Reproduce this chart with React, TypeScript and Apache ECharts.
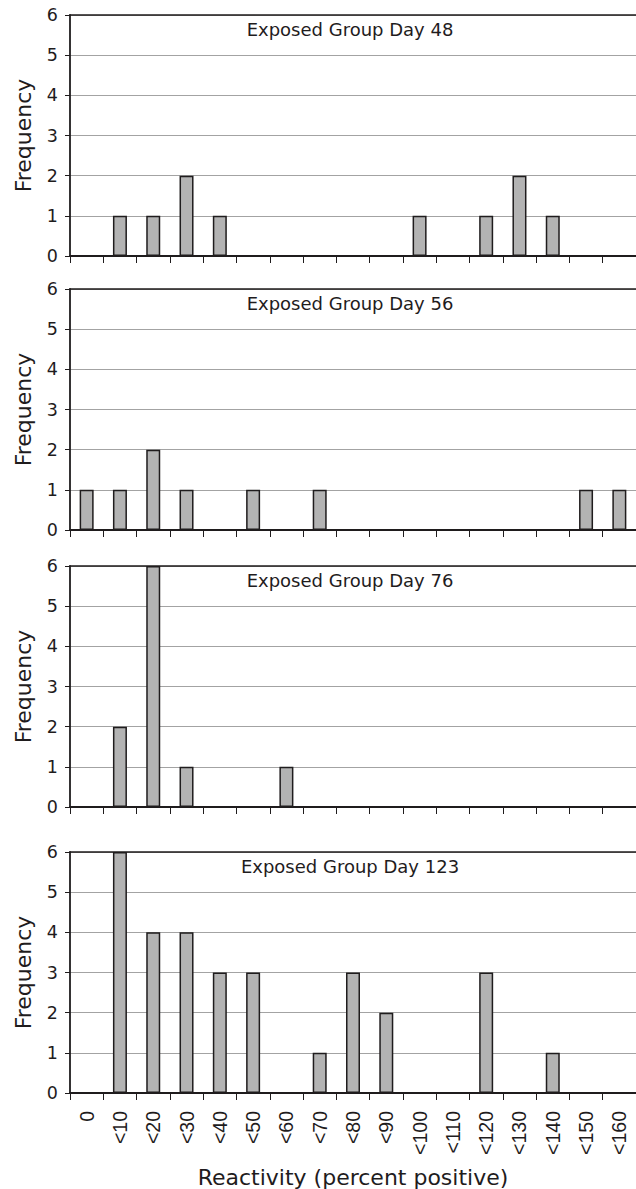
import React, { useEffect, useRef } from "react";
import * as echarts from "echarts";

const categories = ["0", "<10", "<20", "<30", "<40", "<50", "<60", "<70", "<80", "<90", "<100", "<110", "<120", "<130", "<140", "<150", "<160"];
const day48 = [0, 1, 1, 2, 1, 0, 0, 0, 0, 0, 1, 0, 1, 2, 1, 0, 0];
const day56 = [1, 1, 2, 1, 0, 1, 0, 1, 0, 0, 0, 0, 0, 0, 0, 1, 1];
const day76 = [0, 2, 6, 1, 0, 0, 1, 0, 0, 0, 0, 0, 0, 0, 0, 0, 0];
const day123 = [0, 6, 4, 4, 3, 3, 0, 1, 3, 2, 0, 0, 3, 0, 1, 0, 0];
const panelTitles = ["Exposed Group Day 48", "Exposed Group Day 56", "Exposed Group Day 76", "Exposed Group Day 123"];
const yTicks = [0, 1, 2, 3, 4, 5, 6];
const xAxisTitle = "Reactivity (percent positive)";
const yAxisTitle = "Frequency";

const panelData = [day48, day56, day76, day123];
const panelTops = [15, 289, 566, 852];
const panelHeight = 241;
const gridLeft = 70;
const gridWidth = 570;
const FONT = "DejaVu Sans";
const XFONT = "Liberation Sans";
const INK = "#1f1c1d";

export default function App() {
  const ref = useRef<HTMLDivElement>(null);
  useEffect(() => {
    if (!ref.current) return;
    const chart = echarts.init(ref.current, null, { renderer: "svg" });
    const grids: any[] = [];
    const xAxes: any[] = [];
    const yAxes: any[] = [];
    const series: any[] = [];
    const graphics: any[] = [];
    panelData.forEach((vals, i) => {
      const isLast = i === panelData.length - 1;
      grids.push({ left: gridLeft, top: panelTops[i], width: gridWidth, height: panelHeight });
      xAxes.push({
        type: "category",
        gridIndex: i,
        data: categories,
        boundaryGap: true,
        axisLine: { show: true, lineStyle: { color: INK, width: 1.8 } },
        axisTick: { show: true, length: 7, alignWithLabel: false, lineStyle: { color: INK, width: 1 } },
        axisLabel: {
          show: isLast,
          rotate: 90,
          interval: 0,
          margin: 18,
          fontFamily: XFONT,
          fontSize: 19.5,
          color: INK,
        },
        name: isLast ? xAxisTitle : "",
        nameLocation: "middle",
        nameGap: 73,
        nameTextStyle: { fontFamily: FONT, fontSize: 22, color: INK },
        splitLine: { show: false },
      });
      // top frame line
      xAxes.push({
        type: "category",
        gridIndex: i,
        position: "top",
        data: categories,
        axisLine: { show: true, lineStyle: { color: INK, width: 1.6 } },
        axisTick: { show: false },
        axisLabel: { show: false },
        splitLine: { show: false },
      });
      yAxes.push({
        type: "value",
        gridIndex: i,
        min: 0,
        max: 6,
        interval: 1,
        axisLine: { show: true, lineStyle: { color: INK, width: 1.8 } },
        axisTick: { show: true, length: 5, lineStyle: { color: INK, width: 1 } },
        axisLabel: { margin: 12, fontFamily: FONT, fontSize: 17.5, color: INK, customValues: yTicks },
        splitLine: { show: true, lineStyle: { color: "#a3a3a3", width: 1 } },
        name: yAxisTitle,
        nameLocation: "middle",
        nameGap: 36,
        nameTextStyle: { fontFamily: FONT, fontSize: 22, color: INK },
      });
      series.push({
        type: "bar",
        xAxisIndex: i * 2,
        yAxisIndex: i,
        data: vals.map((v) => (v === 0 ? "-" : v)),
        barWidth: 14,
        itemStyle: { color: "#b3b3b3", borderColor: INK, borderWidth: 1.5 },
      });
      graphics.push({
        type: "text",
        x: 350,
        y: panelTops[i] + 14,
        style: {
          text: panelTitles[i],
          fontFamily: FONT,
          fontSize: 18,
          fill: INK,
          textAlign: "center",
          textVerticalAlign: "middle",
        },
      });
    });
    chart.setOption({
      animation: false,
      backgroundColor: "#ffffff",
      grid: grids,
      xAxis: xAxes,
      yAxis: yAxes,
      series,
      graphic: graphics,
    });
    return () => chart.dispose();
  }, []);
  return (
    <div
      ref={ref}
      style={{ position: "absolute", left: 0, top: 0, width: 636, height: 1189, background: "#fff" }}
    />
  );
}
